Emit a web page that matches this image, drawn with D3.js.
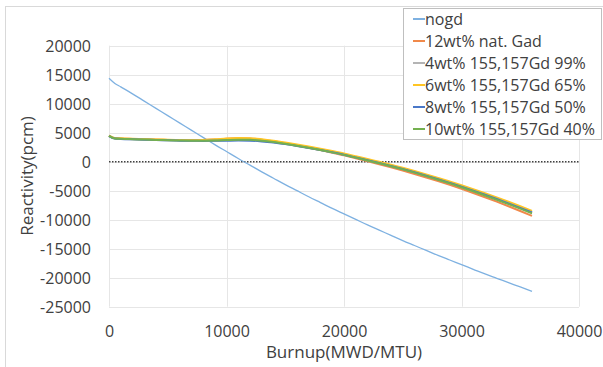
<!DOCTYPE html>
<html><head><meta charset="utf-8">
<script src="https://cdn.jsdelivr.net/npm/d3@7"></script>
<style>body{margin:0;background:#fff}svg{display:block}text{font-family:"Open Sans",sans-serif;fill:#404040}</style>
</head><body><svg id="c" width="603" height="367"></svg>
<script>
const burnup = [0,500,1000,2000,3000,4000,5000,6000,7000,8000,9000,10000,11000,12000,13000,14000,15000,16000,17000,18000,19000,20000,21000,22000,23000,24000,25000,26000,27000,28000,29000,30000,31000,32000,33000,34000,35000,36000];
const nogd = [14400,13500,12900,11700,10450,9200,7950,6700,5450,4200,2950,1750,550,-600,-1750,-2850,-3950,-5000,-6050,-7050,-8050,-9000,-9950,-10900,-11800,-12700,-13600,-14450,-15300,-16150,-16950,-17750,-18550,-19350,-20100,-20850,-21600,-22350];
const natGad12 = [4480,4050,4000,3930,3870,3810,3760,3720,3700,3730,3830,3960,4050,4000,3800,3520,3180,2810,2420,2000,1560,1100,600,80,-440,-980,-1540,-2120,-2720,-3350,-4000,-4680,-5390,-6130,-6890,-7680,-8500,-9350];
const gd4 = [4440,3990,3940,3870,3810,3750,3690,3640,3610,3610,3650,3720,3780,3760,3610,3370,3070,2740,2390,2010,1620,1190,720,230,-250,-740,-1270,-1830,-2420,-3030,-3660,-4310,-5000,-5710,-6440,-7190,-7960,-8760];
const gd6 = [4500,4080,4030,3960,3900,3840,3790,3750,3730,3760,3860,3990,4080,4050,3880,3630,3320,2980,2620,2240,1840,1420,950,460,-20,-510,-1040,-1600,-2180,-2790,-3410,-4050,-4730,-5430,-6160,-6910,-7680,-8480];
const gd8 = [4420,3980,3930,3860,3800,3740,3680,3630,3600,3590,3600,3620,3640,3620,3500,3300,3030,2720,2380,2010,1620,1200,730,240,-240,-740,-1270,-1830,-2420,-3030,-3660,-4310,-5000,-5710,-6440,-7190,-7960,-8750];
const gd10 = [4450,4000,3950,3880,3820,3760,3700,3650,3620,3620,3660,3740,3800,3780,3620,3380,3080,2750,2390,2010,1610,1180,700,200,-270,-770,-1310,-1880,-2480,-3100,-3740,-4400,-5100,-5820,-6560,-7320,-8100,-8900];
const seriesNames = ["nogd","12wt% nat. Gad","4wt% 155,157Gd 99%","6wt% 155,157Gd 65%","8wt% 155,157Gd 50%","10wt% 155,157Gd 40%"];
const seriesColors = ["#7EB1E1","#F0894A","#B4B4B4","#FFC524","#4A78C8","#74B04F"];
const xTicks = [0,10000,20000,30000,40000];
const yTicks = [-25000,-20000,-15000,-10000,-5000,0,5000,10000,15000,20000];
const seriesValues = [nogd,natGad12,gd4,gd6,gd8,gd10];

const svg = d3.select("#c");
svg.append("rect").attr("x",5.5).attr("y",6.5).attr("width",620).attr("height",400).attr("fill","none").attr("stroke","#D9D9D9");
const x = d3.scaleLinear().domain([0,40000]).range([109,579]);
const y = d3.scaleLinear().domain([-25000,20000]).range([306.7,45.7]);
const fmt = d => String(d);

const g = svg.append("g");
g.selectAll("line.h").data(yTicks).join("line").attr("x1",109).attr("x2",579)
 .attr("y1",d=>Math.round(y(d))+0.5).attr("y2",d=>Math.round(y(d))+0.5).attr("stroke","#E6E6E6").attr("stroke-width",1);
g.selectAll("line.v").data(xTicks).join("line").attr("y1",y(20000)).attr("y2",y(-25000))
 .attr("x1",d=>Math.round(x(d))+0.5).attr("x2",d=>Math.round(x(d))+0.5).attr("stroke","#E6E6E6").attr("stroke-width",1);

const yAxis = d3.axisLeft(y).tickValues(yTicks).tickSize(0).tickPadding(0).tickFormat(fmt);
const ya = svg.append("g").attr("transform","translate(91,0)").call(yAxis);
ya.select(".domain").remove();
ya.selectAll("text").style("font-size","16px").style("font-family","'Open Sans',sans-serif").attr("fill","#404040").attr("dy","0.35em");
const xAxis = d3.axisBottom(x).tickValues(xTicks).tickSize(0).tickPadding(0).tickFormat(fmt);
const xa = svg.append("g").attr("transform","translate(0,337)").call(xAxis);
xa.select(".domain").remove();
xa.selectAll("text").style("font-size","16px").style("font-family","'Open Sans',sans-serif").attr("fill","#404040").attr("dy","0");

svg.append("line").attr("x1",x(0)).attr("x2",x(40000)).attr("y1",y(0)).attr("y2",y(0))
 .attr("stroke","#404040").attr("stroke-width",1.5).attr("stroke-dasharray","1.5,1.5");

const line = d3.line().x((d,i)=>x(burnup[i])).y(d=>y(d)).curve(d3.curveMonotoneX);
seriesValues.forEach((vals,k)=>{
  svg.append("path").attr("d",line(vals)).attr("fill","none").attr("stroke",seriesColors[k]).attr("stroke-width",k===0?1.3:2);
});

svg.append("text").attr("transform","translate(33,176) rotate(-90)").attr("text-anchor","middle")
  .style("font-size","17px").text("Reactivity(pcm)");
svg.append("text").attr("x",344).attr("y",358).attr("text-anchor","middle")
  .style("font-size","17px").text("Burnup(MWD/MTU)");

const lg = svg.append("g");
lg.append("rect").attr("x",403.5).attr("y",8.5).attr("width",198).attr("height",131).attr("fill","#fff").attr("stroke","#BFBFBF");
seriesNames.forEach((n,k)=>{
  const cy = 19 + k*22;
  lg.append("line").attr("x1",413).attr("x2",425).attr("y1",cy).attr("y2",cy).attr("stroke",seriesColors[k]).attr("stroke-width",2);
  lg.append("text").attr("x",425).attr("y",cy).attr("dy","0.35em").style("font-size","16px").text(n);
});
</script></body></html>
